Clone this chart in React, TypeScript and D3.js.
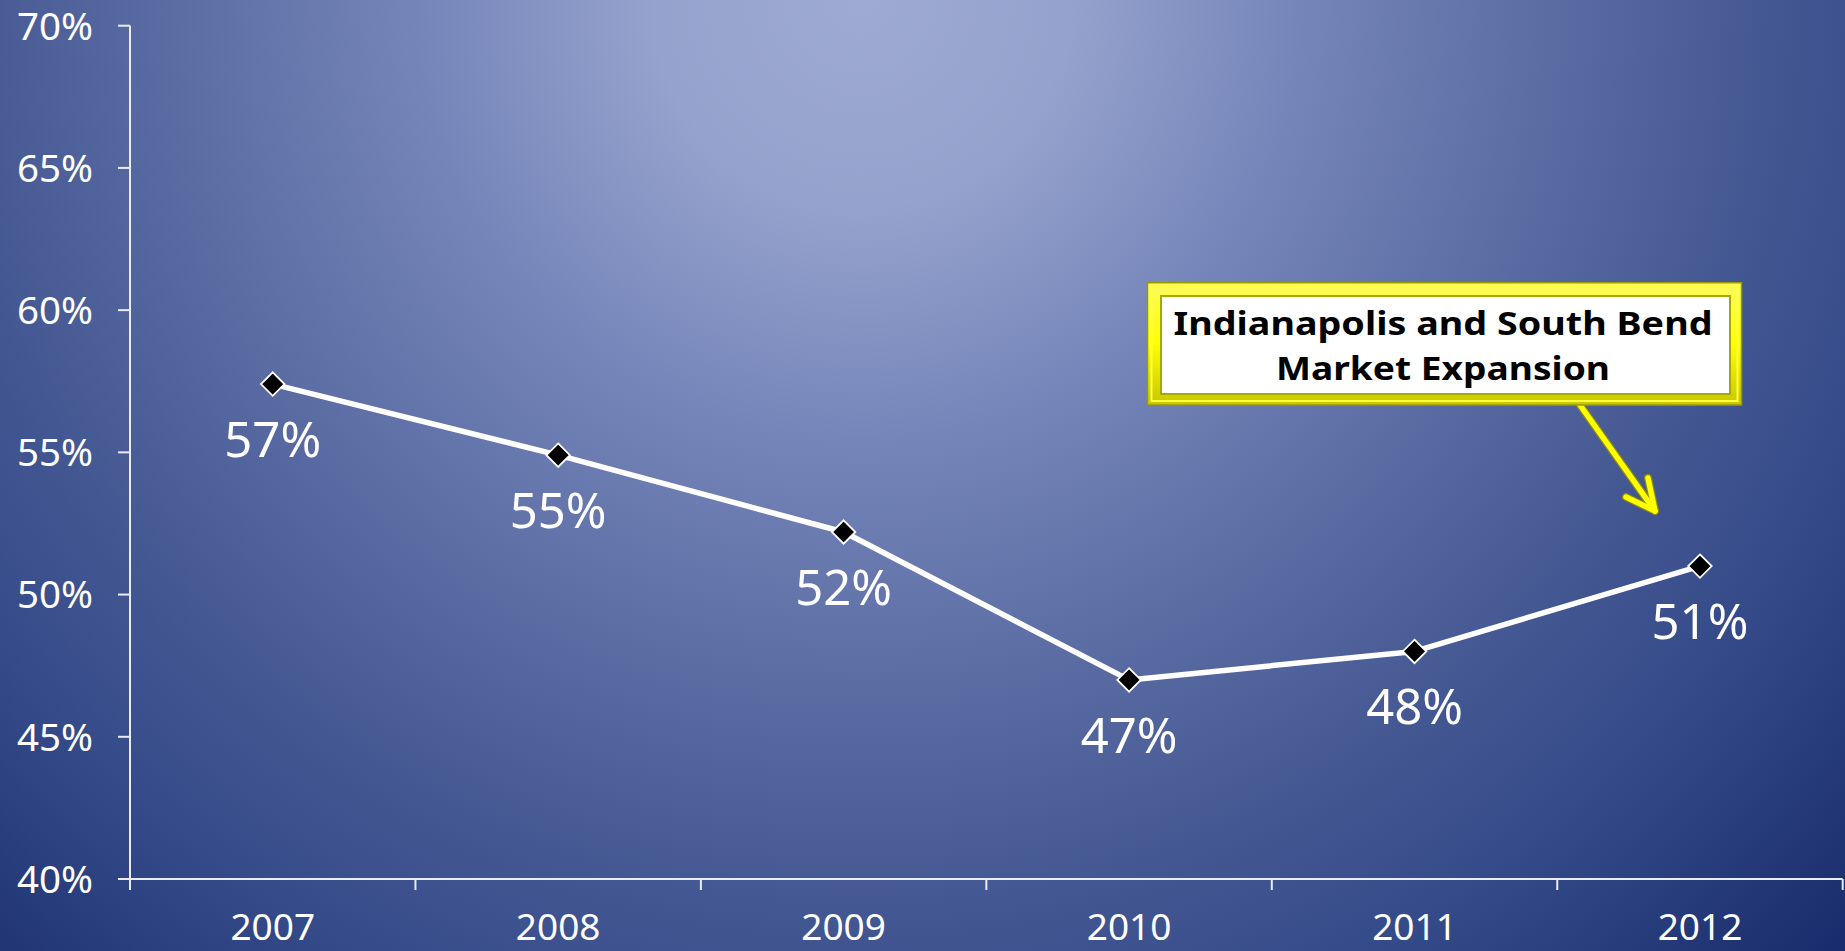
import React from "react";
import * as d3 from "d3";

const years = ["2007", "2008", "2009", "2010", "2011", "2012"];
const values = [57.4, 54.9, 52.2, 47.0, 48.0, 51.0];
const valueLabels = ["57%", "55%", "52%", "47%", "48%", "51%"];
const yTicks = [40, 45, 50, 55, 60, 65, 70];
const calloutLines = ["Indianapolis and South Bend", "Market Expansion"];

const W = 1845;
const H = 951;
const FONT = "'Noto Sans', 'DejaVu Sans', sans-serif";

export default function App() {
  React.useEffect(() => {
    document.body.style.margin = "0";
  }, []);

  const x = d3.scaleBand<string>().domain(years).range([130, 1842.7]);
  const y = d3.scaleLinear().domain([40, 70]).range([879, 25.7]);
  const cx = (d: string) => (x(d) as number) + x.bandwidth() / 2;

  const line = d3
    .line<number>()
    .x((_, i) => cx(years[i]))
    .y((v) => y(v));

  const xTickPos = [...years.map((d) => x(d) as number), 1842.7];
  const diamond = d3.symbol(d3.symbolDiamond2, 350)();

  const axisColor = "#e8ecf4";

  // callout geometry
  const bx0 = 1147.5, bx1 = 1741.5, by0 = 282.7, by1 = 405;
  const ix0 = 1161, ix1 = 1730, iy0 = 296, iy1 = 394;
  const arrowStart: [number, number] = [1580, 405];
  const arrowTip: [number, number] = [1655, 511];
  const wingA: [number, number] = [1626, 497];
  const wingB: [number, number] = [1648, 478];
  const textCx = 1443;

  return (
    <svg
      width={W}
      height={H}
      style={{ position: "absolute", left: 0, top: 0, display: "block" }}
    >
      <defs>
        <radialGradient id="bg" gradientUnits="userSpaceOnUse" cx={860} cy={0} r={1380}>
          <stop offset="0" stopColor="#9eaad3" />
          <stop offset="0.15" stopColor="#95a2cd" />
          <stop offset="0.32" stopColor="#7585b9" />
          <stop offset="0.5" stopColor="#5b6ca3" />
          <stop offset="0.66" stopColor="#435792" />
          <stop offset="0.78" stopColor="#354b89" />
          <stop offset="1" stopColor="#172a6b" />
        </radialGradient>
        <linearGradient id="frameV" x1="0" y1="0" x2="0" y2="1">
          <stop offset="0" stopColor="#fbfb60" />
          <stop offset="0.5" stopColor="#ffff00" />
          <stop offset="1" stopColor="#c8c800" />
        </linearGradient>
      </defs>
      <rect x={0} y={0} width={W} height={H} fill="url(#bg)" />

      {/* axes */}
      <line x1={130} y1={y(70)} x2={130} y2={890} stroke={axisColor} strokeWidth={2} />
      <line x1={130} y1={y(40)} x2={1842.7} y2={y(40)} stroke={axisColor} strokeWidth={2} />
      {yTicks.map((t) => (
        <g key={t}>
          <line x1={118} y1={y(t)} x2={130} y2={y(t)} stroke={axisColor} strokeWidth={2} />
          <text
            x={93}
            y={y(t) + 13.8}
            textAnchor="end"
            fontFamily={FONT}
            fontSize={38.5}
            fill="#ffffff"
          >
            {t}%
          </text>
        </g>
      ))}
      {xTickPos.map((p, i) => (
        <line key={i} x1={p} y1={y(40)} x2={p} y2={890} stroke={axisColor} strokeWidth={2} />
      ))}
      {years.map((d) => (
        <text
          key={d}
          x={cx(d)}
          y={940}
          textAnchor="middle"
          fontFamily={FONT}
          fontSize={37}
          fill="#ffffff"
        >
          {d}
        </text>
      ))}

      {/* series */}
      <path d={line(values) ?? ""} fill="none" stroke="#ffffff" strokeWidth={5.5} strokeLinejoin="round" />
      {values.map((v, i) => (
        <path
          key={i}
          d={diamond ?? ""}
          transform={`translate(${cx(years[i])},${y(v)})`}
          fill="#000000"
          stroke="#ffffff"
          strokeWidth={1.8}
        />
      ))}
      {values.map((v, i) => (
        <text
          key={i}
          x={cx(years[i])}
          y={y(v) + 73}
          textAnchor="middle"
          fontFamily={FONT}
          fontSize={49}
          fill="#ffffff"
        >
          {valueLabels[i]}
        </text>
      ))}

      {/* callout arrow */}
      <g fill="none" strokeLinecap="round" strokeLinejoin="round">
        <polyline
          points={[arrowStart, arrowTip].map((p) => p.join(",")).join(" ")}
          stroke="#8c8c10"
          strokeWidth={8}
        />
        <polyline
          points={[wingA, arrowTip, wingB].map((p) => p.join(",")).join(" ")}
          stroke="#8c8c10"
          strokeWidth={8}
        />
        <polyline
          points={[arrowStart, arrowTip].map((p) => p.join(",")).join(" ")}
          stroke="#ffff00"
          strokeWidth={5.5}
        />
        <polyline
          points={[wingA, arrowTip, wingB].map((p) => p.join(",")).join(" ")}
          stroke="#ffff00"
          strokeWidth={5.5}
        />
      </g>

      {/* callout box */}
      <rect x={bx0} y={by0} width={bx1 - bx0} height={by1 - by0} fill="url(#frameV)" stroke="#9a9a00" strokeWidth={1.5} />
      <rect x={bx0 + 4} y={by0 + 4} width={bx1 - bx0 - 8} height={by1 - by0 - 8} fill="none" stroke="#ffff40" strokeWidth={2} />
      <rect x={ix0} y={iy0} width={ix1 - ix0} height={iy1 - iy0} fill="#ffffff" stroke="#a8a800" strokeWidth={2} />
      {calloutLines.map((t, i) => (
        <text
          key={i}
          x={textCx}
          y={334.5 + i * 45}
          textAnchor="middle"
          fontFamily={FONT}
          fontWeight="bold"
          fontSize={33}
          fill="#000000"
          textLength={i === 0 ? 539 : 334}
          lengthAdjust="spacingAndGlyphs"
        >
          {t}
        </text>
      ))}
    </svg>
  );
}
